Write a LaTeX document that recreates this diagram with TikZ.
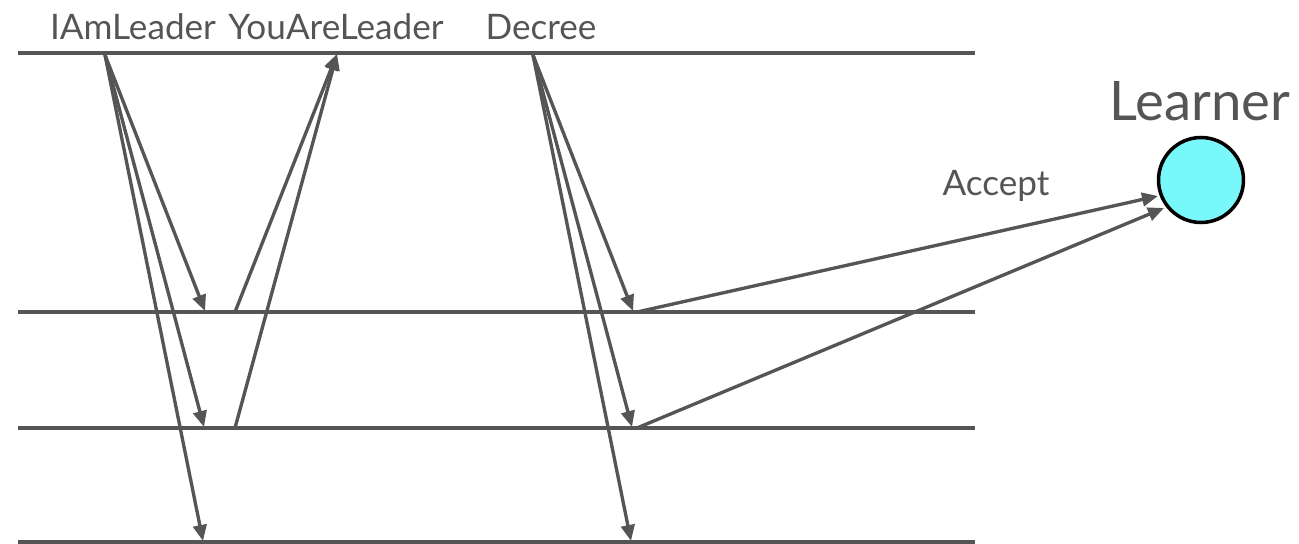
\documentclass[tikz,border=0pt]{standalone}
\usepackage{fontspec}
\setmainfont{Lato}
\usetikzlibrary{arrows.meta}
\definecolor{linegray}{HTML}{555555}
\definecolor{learnercyan}{HTML}{78F8FB}

\begin{document}
\begin{tikzpicture}[
    x=0.02cm, y=-0.02cm,
    timeline/.style={draw=linegray, line width=2.1pt},
    msg/.style={draw=linegray, line width=1.9pt, -{Triangle[length=0.32cm, width=0.27cm]}},
    label/.style={text=linegray, anchor=base, inner sep=0pt, font=\fontsize{20}{24}\selectfont},
    learner/.style={circle, draw=black, line width=2pt, fill=learnercyan, minimum size=1.7cm, inner sep=0pt}
]
    \useasboundingbox (0,0) rectangle (1299,544);
    % timelines
    \coordinate (t0a) at (18,53);   \coordinate (t0b) at (975,53);
    \coordinate (t1a) at (18,312);  \coordinate (t1b) at (975,312);
    \coordinate (t2a) at (18,428);  \coordinate (t2b) at (975,428);
    \coordinate (t3a) at (18,542);  \coordinate (t3b) at (975,542);
    \draw[timeline] (t0a) -- (t0b);
    \draw[timeline] (t1a) -- (t1b);
    \draw[timeline] (t2a) -- (t2b);
    \draw[timeline] (t3a) -- (t3b);
    % message labels
    \node[label] (iam) at (133,40) {IAmLeader};
    \node[label] (youare) at (336,40) {YouAreLeader};
    \node[label] (decree) at (541,40) {Decree};
    % learner
    \node[learner] (learner) at (1201,180) {};
    \node[text=linegray, anchor=base, inner sep=0pt, font=\fontsize{31}{36}\selectfont] (learnerlbl) at (1200,121) {Learner};
    \node[label] (accept) at (996,195) {Accept};
    % end points
    \coordinate (iamsrc) at (105,55);
    \coordinate (iam1) at (205,311);
    \coordinate (iam2) at (204,427);
    \coordinate (iam3) at (203,541);
    \coordinate (you1) at (235,312);
    \coordinate (you2) at (235,428);
    \coordinate (youdst) at (337,54);
    \coordinate (decsrc) at (533,55);
    \coordinate (dec1) at (633,311);
    \coordinate (dec2) at (632,427);
    \coordinate (dec3) at (631,541);
    \coordinate (acc1) at (637,312);
    \coordinate (acc2) at (637,428);
    \coordinate (lrn1) at (1158,196);
    \coordinate (lrn2) at (1164,208);
    % messages
    \foreach \t in {iam1,iam2,iam3} \draw[msg] (iamsrc) -- (\t);
    \foreach \s in {you1,you2} \draw[msg] (\s) -- (youdst);
    \foreach \t in {dec1,dec2,dec3} \draw[msg] (decsrc) -- (\t);
    \draw[msg] (acc1) -- (lrn1);
    \draw[msg] (acc2) -- (lrn2);
\end{tikzpicture}
\end{document}
